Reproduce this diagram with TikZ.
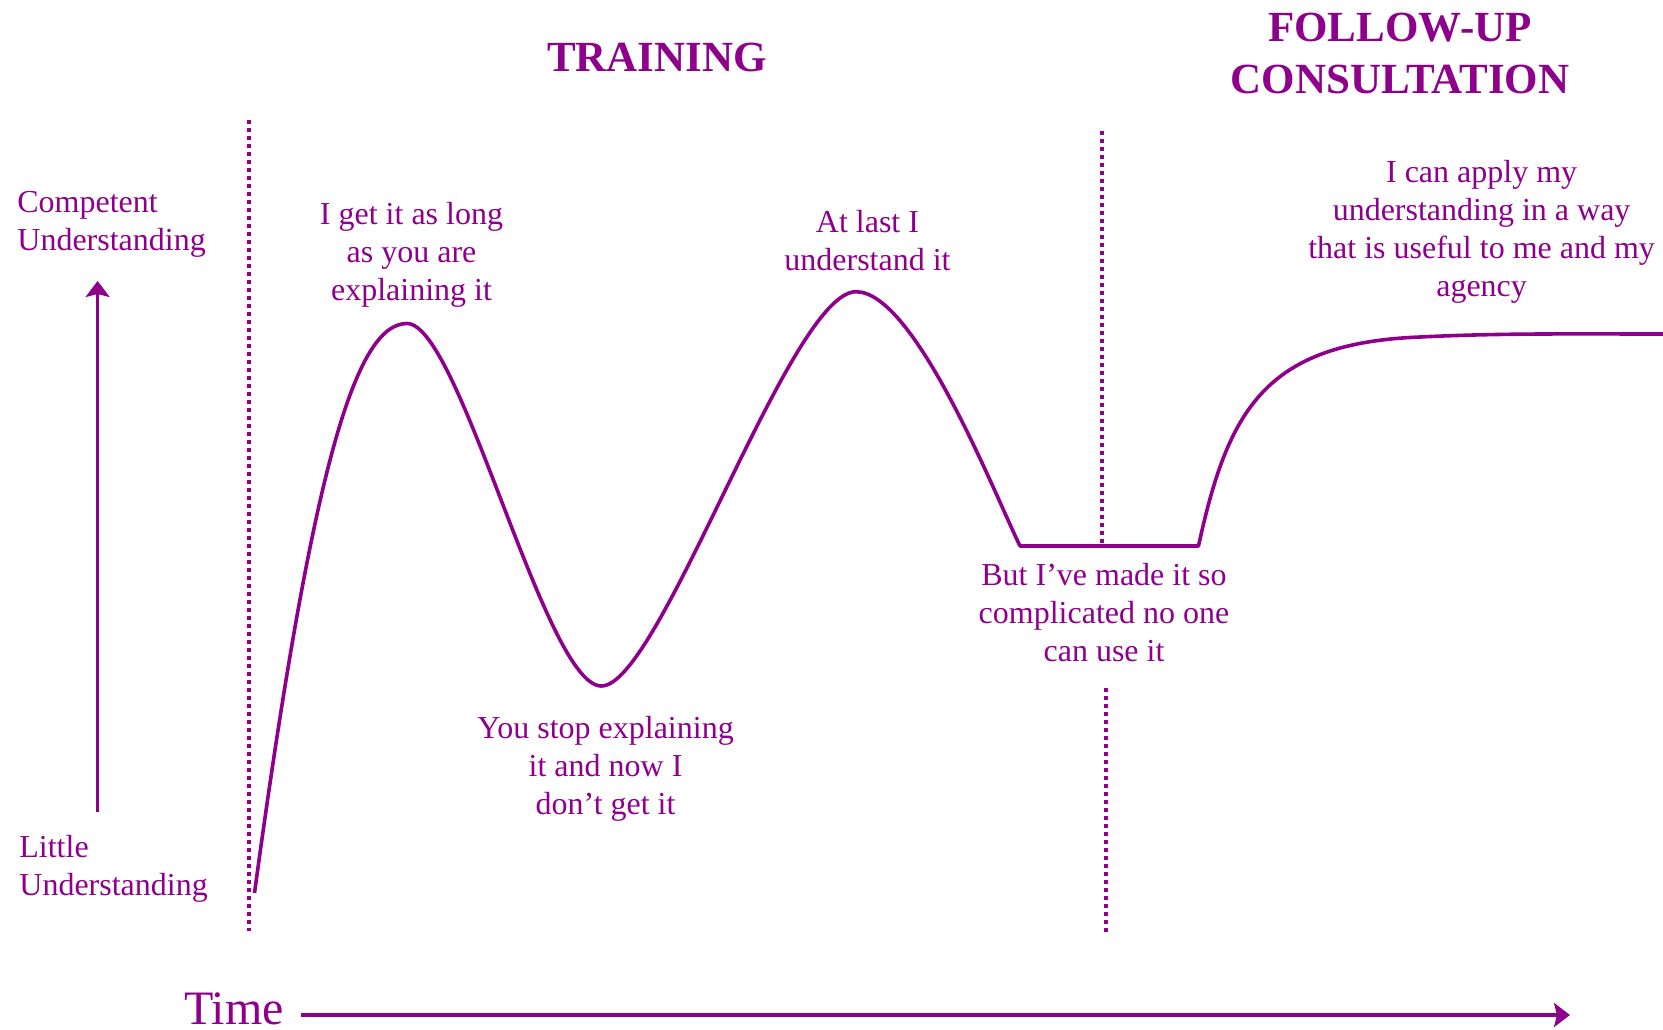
\documentclass[tikz,border=0pt]{standalone}
\usepackage{fontspec}
\setmainfont{Liberation Serif}
\usetikzlibrary{arrows.meta}
\definecolor{plum}{RGB}{142,0,140}
\begin{document}
\begin{tikzpicture}[x=0.5pt,y=-0.5pt,
  every node/.style={text=plum,inner sep=0pt},
  label/.style={align=center,font=\fontsize{16}{19}\selectfont},
  sidelabel/.style={align=left,anchor=west,font=\fontsize{16}{19}\selectfont},
  heading/.style={align=center,font=\fontsize{21.5}{26}\selectfont\bfseries},
  axis/.style={draw=plum,line width=1.6pt,-{Stealth[length=8pt,width=12pt,inset=1.5pt]}},
  divider/.style={draw=plum,line width=2pt,dash pattern=on 2pt off 2pt},
  curve/.style={draw=plum,line width=1.8pt}]
\useasboundingbox (0,0) rectangle (1663,1029);

% headings
\node[heading] (training) at (657,57) {TRAINING};
\node[heading] (followup) at (1400,53) {FOLLOW-UP\\CONSULTATION};

% vertical axis
\node[sidelabel] (competent) at (17,224) {Competent\\Understanding};
\node[sidelabel] (little) at (19,869) {Little\\Understanding};
\coordinate (ybot) at (97.6,812);
\coordinate (ytop) at (97.6,281);
\draw[axis] (ybot) -- (ytop);

% time axis
\node[font=\fontsize{24}{28}\selectfont,anchor=base,text depth=0pt] (time) at (234,1024) {Time};
\coordinate (tend) at (1570,1015);
\draw[axis] (time.east |- tend) ++(17,0) coordinate (tstart) -- (tend);

% phase dividers
\coordinate (d1a) at (249,120);
\coordinate (d1b) at (249,931);
\draw[divider] (d1a) -- (d1b);
\coordinate (d2a) at (1102,131);
\coordinate (d2b) at (1102,543);
\draw[divider] (d2a) -- (d2b);
\coordinate (d3a) at (1106,688);
\coordinate (d3b) at (1106,935);
\draw[divider] (d3a) -- (d3b);

% learning curve
\coordinate (s) at (254.5,893);
\coordinate (p1) at (407,323.5);
\coordinate (t1) at (601.4,686);
\coordinate (p2) at (856,291.7);
\coordinate (b1) at (1020,546);
\coordinate (b2) at (1198.5,546);
\coordinate (pl) at (1420,337);
\coordinate (e) at (1663,334);
\draw[curve,line join=round]
  (s) .. controls (312,470) and (355,323.5) .. (p1)
      .. controls (460,323.5) and (545,686) .. (t1)
      .. controls (660,686) and (790,291.7) .. (p2)
      .. controls (915,291.7) and (995,495) .. (b1)
      -- (b2)
      .. controls (1228,410) and (1265,343) .. (pl)
      .. controls (1500,333) and (1580,334) .. (e);

% curve annotations
\node[label] (peak1) at (411.5,254.5) {I get it as long\\as you are\\explaining it};
\node[label] (trough) at (605.6,768.5) {You stop explaining\\it and now I\\don’t get it};
\node[label] (peak2) at (867.5,240.5) {At last I\\understand it};
\node[label] (flat) at (1104,612.5) {But I’ve made it so\\complicated no one\\can use it};
\node[label] (apply) at (1481.6,232) {I can apply my\\understanding in a way\\that is useful to me and my\\agency};
\end{tikzpicture}
\end{document}
